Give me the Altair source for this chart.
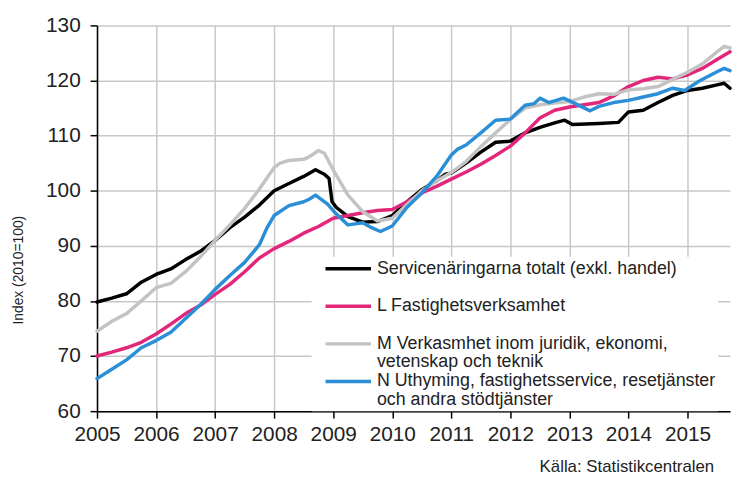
import altair as alt
import pandas as pd

# ---- data ----
series_names = [
    "Servicenäringarna totalt  (exkl. handel)",
    "L Fastighetsverksamhet",
    "M Verkasmhet inom juridik, ekonomi,\nvetenskap och teknik",
    "N Uthyming, fastighetsservice, resetjänster\noch andra stödtjänster",
]
series_colors = ["#000000", "#e2277b", "#c3c3c3", "#2b8fd7"]

total_x = [2005.0, 2005.25, 2005.5, 2005.75, 2006.0, 2006.25, 2006.5, 2006.75, 2007.0, 2007.25,
           2007.5, 2007.75, 2008.0, 2008.25, 2008.5, 2008.7, 2008.85, 2008.93, 2008.98, 2009.05,
           2009.25, 2009.5, 2009.75, 2010.0, 2010.25, 2010.5, 2010.75, 2010.9, 2011.0, 2011.25,
           2011.5, 2011.75, 2012.0, 2012.25, 2012.5, 2012.75, 2012.92, 2013.05, 2013.5, 2013.83,
           2014.0, 2014.25, 2014.5, 2014.75, 2015.0, 2015.25, 2015.5, 2015.62, 2015.72]
total_y = [79.8, 80.5, 81.3, 83.4, 84.8, 85.8, 87.5, 89.0, 91.0, 93.3,
           95.2, 97.4, 100.0, 101.3, 102.6, 103.8, 103.0, 102.2, 98.0, 97.0,
           95.3, 94.3, 94.4, 95.5, 98.0, 100.2, 101.8, 103.0, 103.2, 105.0,
           107.0, 108.8, 109.0, 110.5, 111.5, 112.3, 112.8, 112.0, 112.2, 112.4,
           114.3, 114.6, 116.0, 117.3, 118.2, 118.6, 119.2, 119.5, 118.6]

l_x = [2005.0, 2005.25, 2005.5, 2005.75, 2006.0, 2006.25, 2006.5, 2006.75, 2007.0, 2007.25,
       2007.5, 2007.75, 2008.0, 2008.25, 2008.5, 2008.75, 2009.0, 2009.25, 2009.5, 2009.75,
       2010.0, 2010.25, 2010.5, 2010.75, 2011.0, 2011.25, 2011.5, 2011.75, 2012.0, 2012.25,
       2012.5, 2012.75, 2013.0, 2013.25, 2013.5, 2013.75, 2014.0, 2014.25, 2014.5, 2014.75,
       2015.0, 2015.25, 2015.5, 2015.72]
l_y = [70.0, 70.7, 71.5, 72.5, 74.0, 75.8, 77.7, 79.2, 81.2, 83.0,
       85.3, 87.8, 89.5, 90.8, 92.3, 93.5, 95.0, 95.5, 96.0, 96.4,
       96.6, 98.0, 99.6, 100.8, 102.1, 103.4, 104.8, 106.4, 108.1, 110.5,
       113.2, 114.6, 115.2, 115.6, 116.0, 117.2, 118.9, 120.0, 120.6, 120.3,
       121.0, 122.2, 123.8, 125.2]

m_x = [2005.0, 2005.25, 2005.5, 2005.75, 2006.0, 2006.25, 2006.5, 2006.75, 2007.0, 2007.25,
       2007.5, 2007.75, 2008.0, 2008.1, 2008.25, 2008.5, 2008.6, 2008.75, 2008.85, 2009.0,
       2009.25, 2009.5, 2009.75, 2010.0, 2010.25, 2010.5, 2010.75, 2011.0, 2011.25, 2011.5,
       2011.75, 2012.0, 2012.25, 2012.5, 2012.75, 2013.0, 2013.25, 2013.5, 2013.75, 2014.0,
       2014.25, 2014.5, 2014.75, 2015.0, 2015.25, 2015.5, 2015.62, 2015.72]
m_y = [74.5, 76.3, 77.7, 80.0, 82.4, 83.2, 85.3, 88.0, 91.0, 93.8,
       96.8, 100.3, 104.2, 105.0, 105.5, 105.7, 106.2, 107.3, 106.8, 103.8,
       99.2, 96.2, 94.5, 95.0, 97.5, 100.0, 101.8, 103.3, 105.3, 108.0,
       110.5, 112.9, 115.0, 115.6, 115.9, 116.2, 117.0, 117.6, 117.5, 118.3,
       118.5, 118.9, 120.2, 121.5, 123.0, 125.2, 126.2, 125.9]

n_x = [2005.0, 2005.25, 2005.5, 2005.75, 2006.0, 2006.25, 2006.5, 2006.75, 2007.0, 2007.25,
       2007.5, 2007.75, 2007.88, 2008.0, 2008.25, 2008.5, 2008.6, 2008.7, 2008.9, 2009.05,
       2009.25, 2009.5, 2009.65, 2009.8, 2010.0, 2010.25, 2010.5, 2010.75, 2011.0, 2011.1,
       2011.25, 2011.5, 2011.75, 2012.0, 2012.25, 2012.4, 2012.5, 2012.65, 2012.9, 2013.1,
       2013.35, 2013.5, 2013.75, 2014.0, 2014.25, 2014.5, 2014.75, 2014.95, 2015.2, 2015.5,
       2015.62, 2015.72]
n_y = [65.9, 67.6, 69.3, 71.5, 72.8, 74.3, 76.8, 79.3, 82.1, 84.6,
       87.0, 90.2, 93.3, 95.5, 97.3, 98.0, 98.5, 99.2, 97.6, 95.8,
       93.8, 94.2, 93.3, 92.6, 93.6, 97.0, 99.6, 102.6, 106.5, 107.5,
       108.3, 110.5, 112.8, 113.0, 115.5, 115.8, 116.8, 116.0, 116.8, 115.8,
       114.5, 115.3, 116.0, 116.4, 117.0, 117.6, 118.6, 118.2, 119.9, 121.6,
       122.2, 121.8]

year_ticks = list(range(2005, 2016))
value_ticks = list(range(60, 131, 10))
y_title = "Index (2010=100)"
source_text = "Källa:  Statistikcentralen"

# ---- build table ----
frames = []
for i, (name, xs, ys) in enumerate(zip(series_names,
                                       [total_x, l_x, m_x, n_x],
                                       [total_y, l_y, m_y, n_y])):
    frames.append(pd.DataFrame({"year": xs, "value": ys, "series": name, "order": i}))
df = pd.concat(frames, ignore_index=True)

font = "Liberation Sans"

axis_common = dict(labelFontSize=21, labelColor="#222222",
                   tickSize=7, tickColor="#000000", tickWidth=1.5,
                   domainColor="#000000", domainWidth=1.5,
                   gridColor="#c8c8c8", gridWidth=1.5)

lines = alt.Chart(df).mark_line(strokeWidth=3.5, strokeJoin="round", strokeCap="round").encode(
    x=alt.X("year:Q",
            scale=alt.Scale(domain=[2005, 2015.72], nice=False, zero=False),
            axis=alt.Axis(values=year_ticks, format="d", title=None, labelFlush=False,
                          labelPadding=6, **axis_common)),
    y=alt.Y("value:Q",
            scale=alt.Scale(domain=[60, 130], nice=False, zero=False),
            axis=alt.Axis(values=value_ticks, title=y_title, titleFontSize=14,
                          titleFontWeight="normal", titleColor="#222222",
                          titleX=-72, titleY=247, labelPadding=10, **axis_common)),
    color=alt.Color("series:N",
                    scale=alt.Scale(domain=series_names, range=series_colors),
                    sort=series_names,
                    legend=alt.Legend(title=None, orient="none", legendX=217, legendY=234,
                                      fillColor="white", padding=2,
                                      symbolType="M0,0H5.75", symbolStrokeWidth=3.5,
                                      symbolSize=256, symbolOffset=2, labelFontSize=18,
                                      labelColor="#222222", labelLimit=0,
                                      labelOffset=42,
                                      labelExpr="indexof(datum.label, '\\n') >= 0 ? split(datum.label, '\\n') : [datum.label, '']",
                                      rowPadding=0)),
    order=alt.Order("order:Q"),
    detail="series:N",
)

source = alt.Chart(pd.DataFrame({"t": [source_text]})).mark_text(
    align="right", baseline="middle", fontSize=17, color="#222222", font=font
).encode(text="t:N", x=alt.value(624), y=alt.value(447))

chart = (alt.layer(lines, source).properties(
    width=640, height=390,
    autosize=alt.AutoSizeParams(type="none"),
    padding={"left": 90, "top": 15, "right": 2, "bottom": 66},
).configure(font=font, style={"guide-label": {"lineHeight": 18.5}})
 .configure_view(stroke=None))

chart.save("out.html", embed_options={"renderer": "svg", "actions": False})
